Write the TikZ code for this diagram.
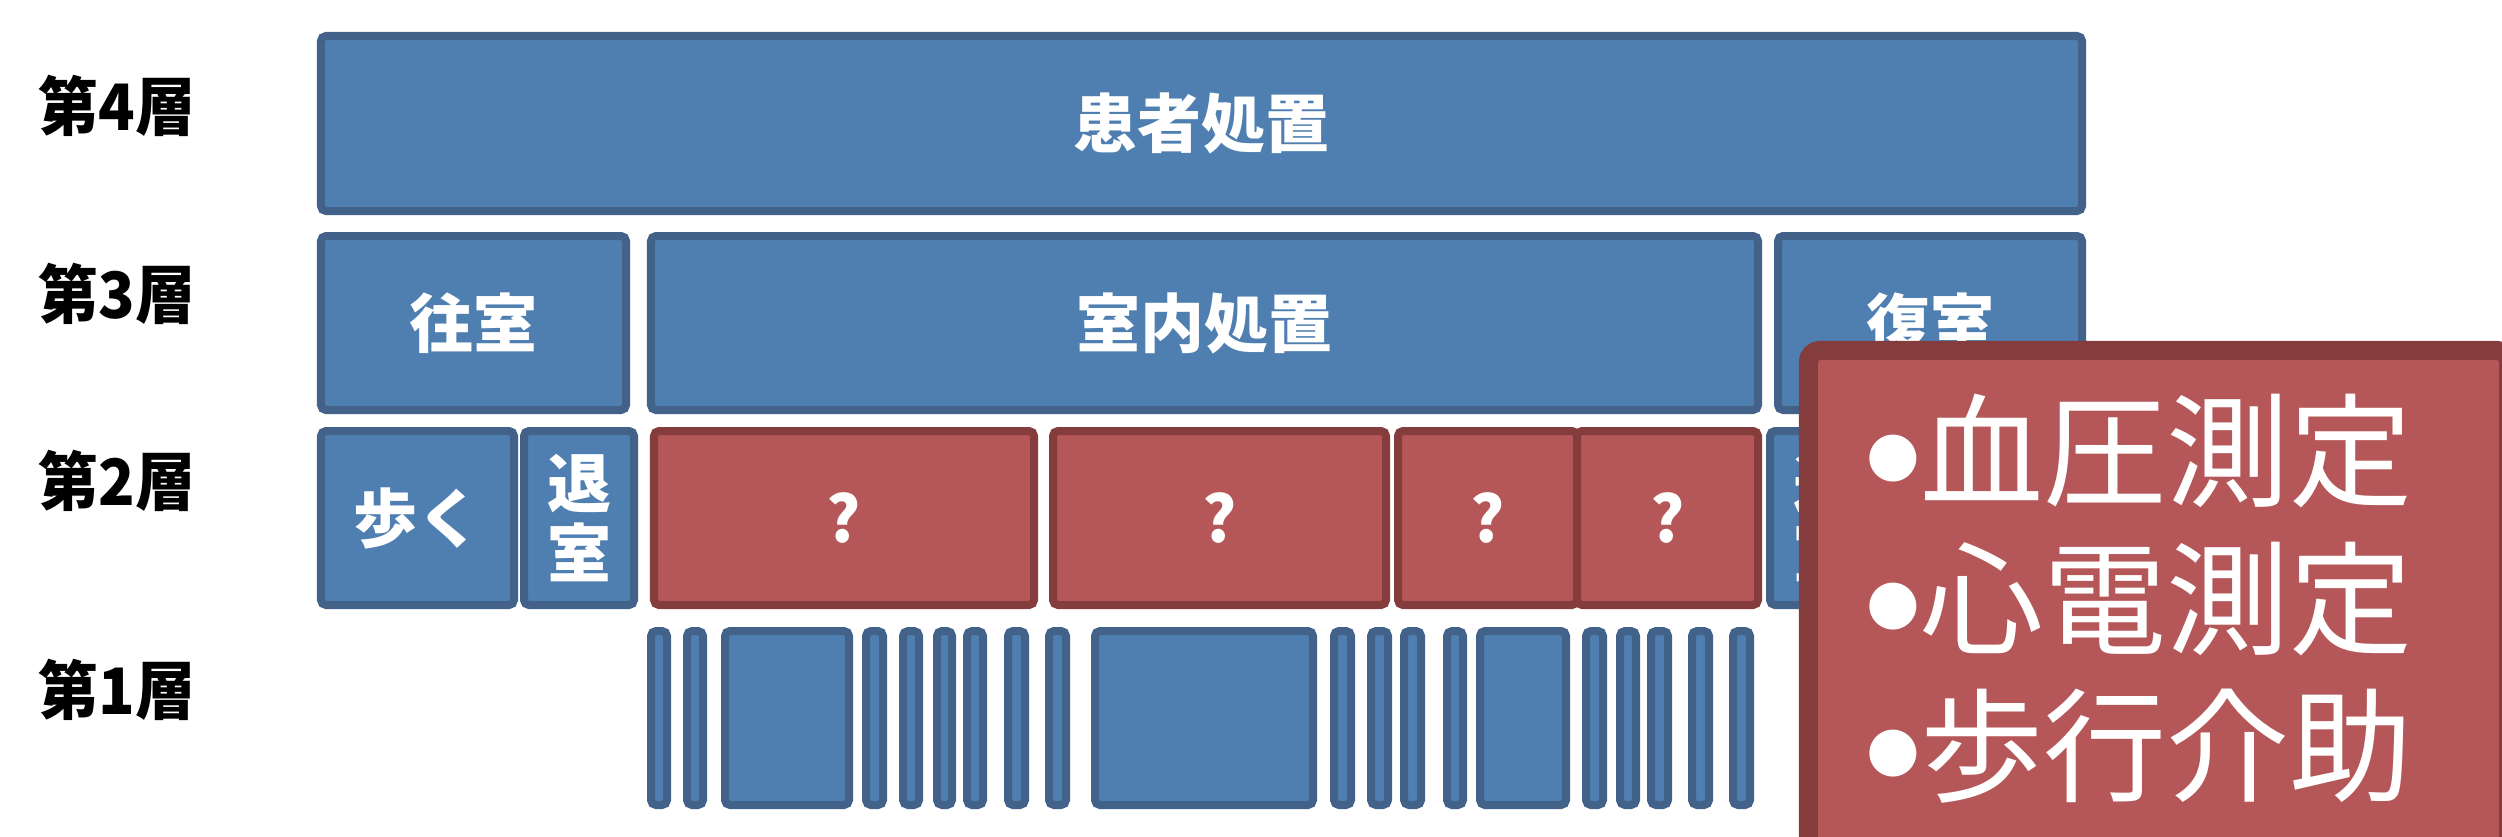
\documentclass[tikz,border=0pt]{standalone}
\usepackage{fontspec}
\newfontfamily\jp{Noto Sans CJK JP}
\newfontfamily\jpc{Noto Sans CJK JP}[FakeStretch=0.94]
\newfontfamily\dvs{DejaVu Sans}
\definecolor{bfill}{RGB}{79,127,177}
\definecolor{bline}{RGB}{66,98,138}
\definecolor{rfill}{RGB}{181,87,88}
\definecolor{rline}{RGB}{133,60,61}
\newcommand\mybox[7]{%
  \pgfmathsetmacro\mybw{(#5-#3-8)*0.01}%
  \pgfmathsetmacro\mybh{(#6-#4-8)*0.01}%
  \node[#2, minimum width=\mybw cm, minimum height=\mybh cm] (#1) at ({(#3+#5)/2},{(#4+#6)/2}) {#7};}
\newcommand\bigbul{{\dvs\fontsize{17.5pt}{17.5pt}\selectfont\raisebox{6.5pt}{●}}}
\begin{document}
\begin{tikzpicture}[x=0.01cm,y=-0.01cm,
  bbox/.style={draw=bline, fill=bfill, line width=0.08cm, rounded corners=0.05cm, inner sep=0pt,
     text=white, font=\jp\bfseries\fontsize{18.2pt}{19.9pt}\selectfont, align=center},
  rbox/.style={bbox, draw=rline, fill=rfill},
  lbl/.style={anchor=west, inner sep=0pt, font=\jpc\bfseries\fontsize{18.2pt}{20pt}\selectfont},
  big/.style={anchor=base west, inner sep=0pt, text=white, font=\jp\fontsize{35pt}{40pt}\selectfont}]
\useasboundingbox (0,0) rectangle (2502,836);
\clip (0,0) rectangle (2502,836);
\fill[white] (0,0) rectangle (2502,836);
% labels
\node[lbl] (l4) at (38,106) {第4層};
\node[lbl] (l3) at (38,294) {第3層};
\node[lbl] (l2) at (38,481) {第2層};
\node[lbl] (l1) at (38,690) {第1層};
% row 4
\mybox{p4}{bbox}{317}{32}{2086}{215}{患者処置}
% row 3
\mybox{p3a}{bbox}{317}{232}{630}{414}{往室}
\mybox{p3b}{bbox}{647}{232}{1762}{414}{室内処置}
\mybox{p3c}{bbox}{1774}{232}{2086}{414}{復室}
% row 2
\mybox{p2a}{bbox}{317}{427}{518}{609}{歩く}
\mybox{p2b}{bbox}{520}{427}{638}{609}{退\\室}
\mybox{p2c}{rbox}{650}{427}{1038}{609}{?}
\mybox{p2d}{rbox}{1049}{427}{1390}{609}{?}
\mybox{p2e}{rbox}{1394}{427}{1581}{609}{?}
\mybox{p2f}{rbox}{1573}{427}{1762}{609}{?}
\mybox{p2g}{bbox}{1766}{427}{1884}{609}{退\\室}
% row 1
\foreach \a/\b [count=\i] in {647/671,683/707,721/853,862/887,899/923,933/956,963/987,1004/1029,1045/1070,1091/1317,1330/1355,1367/1392,1400/1425,1443/1467,1476/1570,1582/1607,1616/1640,1647/1672,1688/1713,1729/1754}
  {\mybox{c\i}{bbox}{\a}{627}{\b}{809}{}}
% overlay
\node[draw=rline, fill=rfill, line width=0.19cm, rounded corners=0.12cm, inner sep=0pt,
  minimum width=7.00cm, minimum height=5.40cm] (ov) at (2158.5,620.5) {};
\node[big] (t1) at (1866,497) {\bigbul 血圧測定};
\node[big] (t2) at (1866,645) {\bigbul 心電測定};
\node[big] (t3) at (1866,792) {\bigbul 歩行介助};
\end{tikzpicture}
\end{document}
